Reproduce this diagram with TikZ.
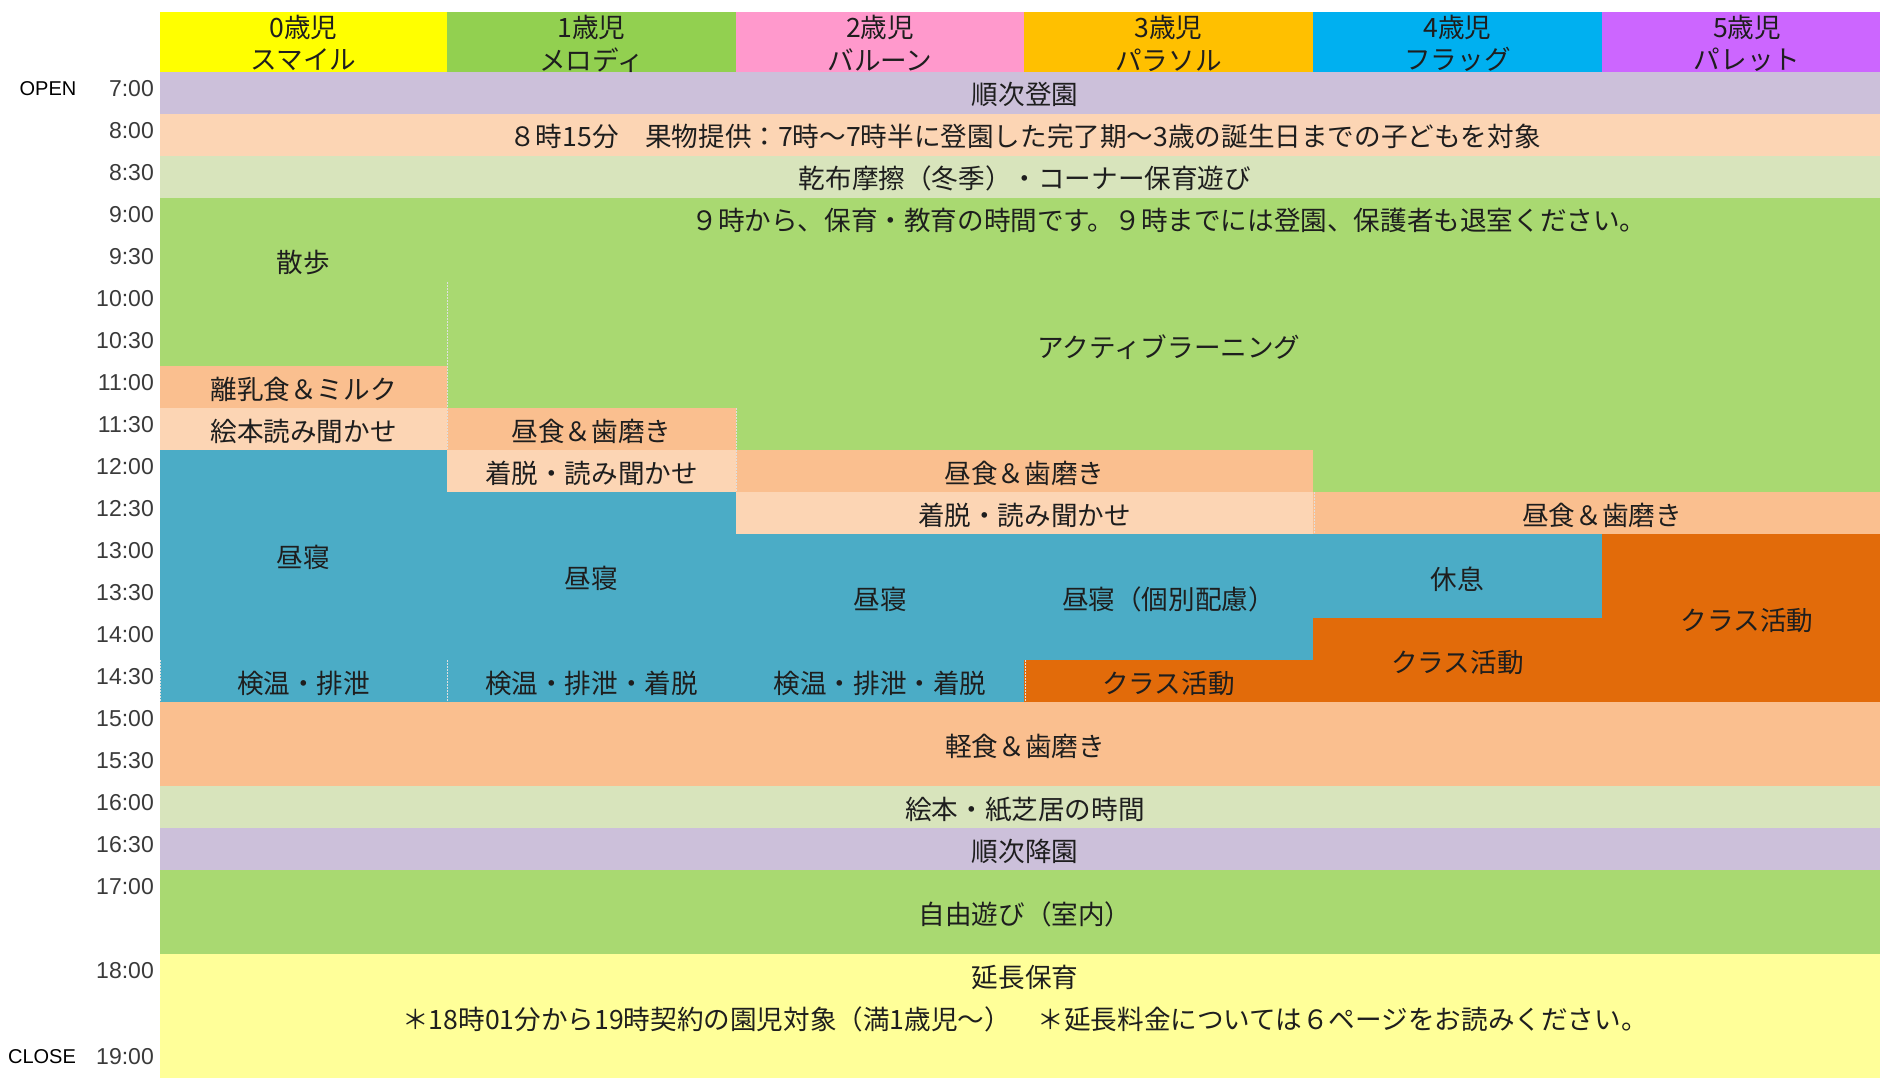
\documentclass[tikz,border=0pt]{standalone}
\usepackage{fontspec}
\newfontfamily\jp{Noto Sans CJK JP}
\newfontfamily\lat{Liberation Sans}
\definecolor{hY}{HTML}{FFFF00}
\definecolor{hG}{HTML}{92D050}
\definecolor{hP}{HTML}{FF99CC}
\definecolor{hO}{HTML}{FFC000}
\definecolor{hB}{HTML}{00B0F0}
\definecolor{hV}{HTML}{CC66FF}
\definecolor{lav}{HTML}{CCC0DA}
\definecolor{lpeach}{HTML}{FCD5B4}
\definecolor{sage}{HTML}{D8E4BC}
\definecolor{grn}{HTML}{A9D971}
\definecolor{peach}{HTML}{FABF8F}
\definecolor{nap}{HTML}{4BACC6}
\definecolor{orng}{HTML}{E26B0A}
\definecolor{yel}{HTML}{FFFF99}
\definecolor{txt}{HTML}{1E1E1E}
\definecolor{tmc}{HTML}{3A3A3A}
\tikzset{
  lbl/.style={font=\jp\fontsize{26.6}{30}\selectfont, text=txt, inner sep=0pt, yshift=-1.8pt},
  tm/.style={font=\lat\fontsize{23}{26}\selectfont, text=tmc, inner sep=0pt, anchor=east, yshift=-1pt},
  oc/.style={font=\lat\fontsize{20}{24}\selectfont, text=black, inner sep=0pt, yshift=-1pt},
  dots/.style={draw=white!75!gray, line width=1pt, dash pattern=on 1.5pt off 1.5pt}
}
\begin{document}
\begin{tikzpicture}[x=1pt,y=-1pt]
\useasboundingbox (0,0) rectangle (1880,1078);
% header
\fill[hY] (160,12) rectangle (447,72);
\fill[hG] (447,12) rectangle (736,72);
\fill[hP] (736,12) rectangle (1024,72);
\fill[hO] (1024,12) rectangle (1313,72);
\fill[hB] (1313,12) rectangle (1602,72);
\fill[hV] (1602,12) rectangle (1880,72);
% top rows
\fill[lav] (160,72) rectangle (1880,114);
\fill[lpeach] (160,114) rectangle (1880,156);
\fill[sage] (160,156) rectangle (1880,198);
\fill[grn] (160,198) rectangle (1880,492);
% col0
\fill[peach] (160,366) rectangle (447,408);
\fill[lpeach] (160,408) rectangle (447,450);
\fill[nap] (160,450) rectangle (447,702);
% col1
\fill[peach] (447,408) rectangle (736,450);
\fill[lpeach] (447,450) rectangle (736,492);
\fill[nap] (447,492) rectangle (736,702);
% cols 2-3
\fill[peach] (736,450) rectangle (1313,492);
\fill[lpeach] (736,492) rectangle (1313,534);
\fill[nap] (736,534) rectangle (1024,702);
\fill[nap] (1024,534) rectangle (1313,660);
\fill[orng] (1024,660) rectangle (1313,702);
% cols 4-5
\fill[peach] (1313,492) rectangle (1880,534);
\fill[nap] (1313,534) rectangle (1602,618);
\fill[orng] (1313,618) rectangle (1602,702);
\fill[orng] (1602,534) rectangle (1880,702);
% bottom rows
\fill[peach] (160,702) rectangle (1880,786);
\fill[sage] (160,786) rectangle (1880,828);
\fill[lav] (160,828) rectangle (1880,870);
\fill[grn] (160,870) rectangle (1880,954);
\fill[yel] (160,954) rectangle (1880,1078);
% dotted separators
\draw[dots] (447,282) -- (447,450);
\draw[dots] (736,408) -- (736,492);
\draw[dots] (1314,492) -- (1314,534);
\draw[dots] (160.5,660) -- (160.5,702);
\draw[dots] (447,660) -- (447,702);
\draw[dots] (1025,660) -- (1025,702);
% header text
\node[lbl] (h0a) at (303.5,26) {0歳児};
\node[lbl] (h0b) at (303.5,58) {スマイル};
\node[lbl] (h1a) at (591.5,26) {1歳児};
\node[lbl] (h1b) at (591.5,58) {メロディ};
\node[lbl] (h2a) at (880,26) {2歳児};
\node[lbl] (h2b) at (880,58) {バルーン};
\node[lbl] (h3a) at (1168.5,26) {3歳児};
\node[lbl] (h3b) at (1168.5,58) {パラソル};
\node[lbl] (h4a) at (1457.5,26) {4歳児};
\node[lbl] (h4b) at (1457.5,58) {フラッグ};
\node[lbl] (h5a) at (1747,26) {5歳児};
\node[lbl] (h5b) at (1747,58) {パレット};
% time labels
\node[oc] (open) at (48,88) {OPEN};
\node[oc] (close) at (42,1056) {CLOSE};
\node[tm] (t0700) at (154,88) {7:00};
\node[tm] (t0800) at (154,130) {8:00};
\node[tm] (t0830) at (154,172) {8:30};
\node[tm] (t0900) at (154,214) {9:00};
\node[tm] (t0930) at (154,256) {9:30};
\node[tm] (t1000) at (154,298) {10:00};
\node[tm] (t1030) at (154,340) {10:30};
\node[tm] (t1100) at (154,382) {11:00};
\node[tm] (t1130) at (154,424) {11:30};
\node[tm] (t1200) at (154,466) {12:00};
\node[tm] (t1230) at (154,508) {12:30};
\node[tm] (t1300) at (154,550) {13:00};
\node[tm] (t1330) at (154,592) {13:30};
\node[tm] (t1400) at (154,634) {14:00};
\node[tm] (t1430) at (154,676) {14:30};
\node[tm] (t1500) at (154,718) {15:00};
\node[tm] (t1530) at (154,760) {15:30};
\node[tm] (t1600) at (154,802) {16:00};
\node[tm] (t1630) at (154,844) {16:30};
\node[tm] (t1700) at (154,886) {17:00};
\node[tm] (t1800) at (154,970) {18:00};
\node[tm] (t1900) at (154,1056) {19:00};
% activity texts
\node[lbl] (arr) at (1025,93) {順次登園};
\node[lbl] (fruit) at (1025,135) {８時15分　果物提供：7時～7時半に登園した完了期～3歳の誕生日までの子どもを対象};
\node[lbl] (kanpu) at (1025,177) {乾布摩擦（冬季）・コーナー保育遊び};
\node[lbl] (nine) at (1169,219) {９時から、保育・教育の時間です。９時までには登園、保護者も退室ください。};
\node[lbl] (walk) at (303.5,261) {散歩};
\node[lbl] (active) at (1169,345) {アクティブラーニング};
\node[lbl] (milk) at (303.5,388) {離乳食＆ミルク};
\node[lbl] (ehon0) at (303.5,430) {絵本読み聞かせ};
\node[lbl] (lunch1) at (591.5,430) {昼食＆歯磨き};
\node[lbl] (dress1) at (591.5,472) {着脱・読み聞かせ};
\node[lbl] (lunch23) at (1024.5,472) {昼食＆歯磨き};
\node[lbl] (dress23) at (1024.5,514) {着脱・読み聞かせ};
\node[lbl] (lunch45) at (1602,514) {昼食＆歯磨き};
\node[lbl] (nap0) at (303.5,556) {昼寝};
\node[lbl] (nap1) at (591.5,577) {昼寝};
\node[lbl] (nap2) at (880,598) {昼寝};
\node[lbl] (nap3) at (1168.5,598) {昼寝（個別配慮）};
\node[lbl] (rest4) at (1457.5,577) {休息};
\node[lbl] (cls4) at (1457.5,661) {クラス活動};
\node[lbl] (cls5) at (1747,619) {クラス活動};
\node[lbl] (cls3) at (1168.5,682) {クラス活動};
\node[lbl] (chk0) at (303.5,682) {検温・排泄};
\node[lbl] (chk1) at (591.5,682) {検温・排泄・着脱};
\node[lbl] (chk2) at (880,682) {検温・排泄・着脱};
\node[lbl] (snack) at (1025,745) {軽食＆歯磨き};
\node[lbl] (story) at (1025,808) {絵本・紙芝居の時間};
\node[lbl] (leave) at (1025,850) {順次降園};
\node[lbl] (free) at (1025,913) {自由遊び（室内）};
\node[lbl] (ext) at (1025,976) {延長保育};
\node[lbl] (extnote) at (1025,1018) {＊18時01分から19時契約の園児対象（満1歳児～）　＊延長料金については６ページをお読みください。};
\end{tikzpicture}
\end{document}
